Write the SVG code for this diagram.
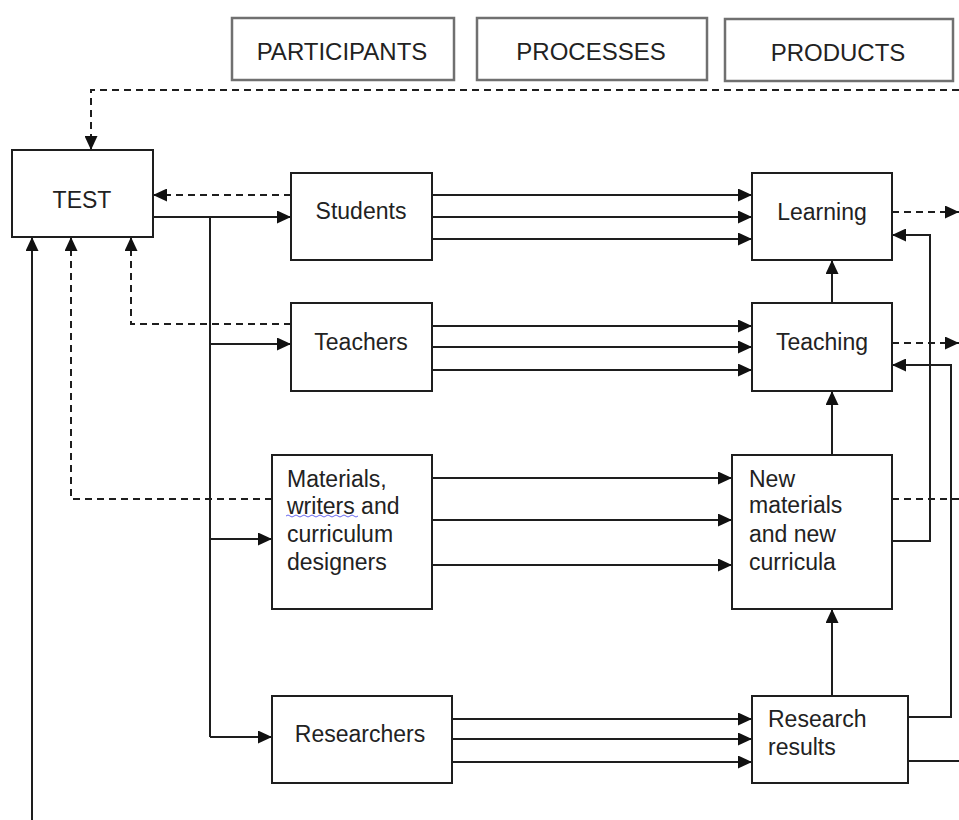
<svg xmlns="http://www.w3.org/2000/svg" width="959" height="820" viewBox="0 0 959 820">
<style>
.box{fill:#fff;stroke:#1e1e1e;stroke-width:2}
.hbox{fill:#fff;stroke:#707070;stroke-width:2.5}
.t{font-family:"Liberation Sans",Arial,sans-serif;font-size:23px;fill:#222}
.h{font-family:"Liberation Sans",Arial,sans-serif;font-size:24px;fill:#222;text-anchor:middle}
.c{text-anchor:middle}
.ln{fill:none;stroke:#1e1e1e;stroke-width:2}
.ar{marker-end:url(#ah)}
.d{stroke-dasharray:7,5}
</style>
<defs>
<marker id="ah" markerUnits="userSpaceOnUse" markerWidth="14" markerHeight="13" refX="14" refY="6.5" orient="auto">
<path d="M0,0 L14,6.5 L0,13 z" fill="#111"/>
</marker>
</defs>
<g id="header-participants"><rect class="hbox" x="232" y="18" width="222" height="62"/><text class="h" x="342" y="60">PARTICIPANTS</text></g>
<g id="header-processes"><rect class="hbox" x="477" y="18" width="230" height="62"/><text class="h" x="591" y="60">PROCESSES</text></g>
<g id="header-products"><rect class="hbox" x="725" y="19" width="228" height="62"/><text class="h" x="838" y="61">PRODUCTS</text></g>

<g id="connectors">
<polyline class="ln d ar" points="959,90 91,90 91,150"/>
<polyline class="ln ar" points="153,217 291,217"/>
<polyline class="ln" points="210,217 210,737"/>
<polyline class="ln ar" points="210,344 291,344"/>
<polyline class="ln ar" points="210,539 272,539"/>
<polyline class="ln ar" points="210,737 272,737"/>
<polyline class="ln d ar" points="291,195 153,195"/>
<polyline class="ln d ar" points="291,324 131,324 131,237"/>
<polyline class="ln d ar" points="272,499 71,499 71,237"/>
<polyline class="ln ar" points="32,820 32,237"/>
<polyline class="ln ar" points="432,195 752,195"/>
<polyline class="ln ar" points="432,217 752,217"/>
<polyline class="ln ar" points="432,239 752,239"/>
<polyline class="ln ar" points="432,326 752,326"/>
<polyline class="ln ar" points="432,347 752,347"/>
<polyline class="ln ar" points="432,370 752,370"/>
<polyline class="ln ar" points="432,478 732,478"/>
<polyline class="ln ar" points="432,520 732,520"/>
<polyline class="ln ar" points="432,565 732,565"/>
<polyline class="ln ar" points="452,719 752,719"/>
<polyline class="ln ar" points="452,739 752,739"/>
<polyline class="ln ar" points="452,762 752,762"/>
<polyline class="ln ar" points="832,303 832,260"/>
<polyline class="ln ar" points="832,455 832,391"/>
<polyline class="ln ar" points="832,696 832,609"/>
<polyline class="ln d ar" points="892,212 959,212"/>
<polyline class="ln d ar" points="892,343 959,343"/>
<polyline class="ln d" points="892,499 959,499"/>
<polyline class="ln ar" points="892,541 930,541 930,235 892,235"/>
<polyline class="ln ar" points="908,717 951,717 951,365 892,365"/>
<polyline class="ln" points="908,761 959,761"/>
</g>

<g id="test"><rect class="box" x="12" y="150" width="141" height="87"/><text class="t c" x="82" y="208">TEST</text></g>
<g id="students"><rect class="box" x="291" y="173" width="141" height="87"/><text class="t c" x="361" y="219">Students</text></g>
<g id="teachers"><rect class="box" x="291" y="303" width="141" height="88"/><text class="t c" x="361" y="350">Teachers</text></g>
<g id="materials"><rect class="box" x="272" y="455" width="160" height="154"/>
<text class="t" x="287" y="487">Materials,</text>
<text class="t" x="287" y="514">writers and</text>
<text class="t" x="287" y="542">curriculum</text>
<text class="t" x="287" y="570">designers</text>
<path d="M286,516 q2,-2 4,0 t4,0 t4,0 t4,0 t4,0 t4,0 t4,0 t4,0 t4,0 t4,0 t4,0 t4,0 t4,0 t4,0 t4,0 t4,0 t4,0 t4,0" fill="none" stroke="#6a6af0" stroke-width="1"/>
</g>
<g id="researchers"><rect class="box" x="272" y="696" width="180" height="87"/><text class="t c" x="360" y="742">Researchers</text></g>
<g id="learning"><rect class="box" x="752" y="173" width="140" height="87"/><text class="t c" x="822" y="220">Learning</text></g>
<g id="teaching"><rect class="box" x="752" y="303" width="140" height="88"/><text class="t c" x="822" y="350">Teaching</text></g>
<g id="new-materials"><rect class="box" x="732" y="455" width="160" height="154"/>
<text class="t" x="749" y="487">New</text>
<text class="t" x="749" y="513">materials</text>
<text class="t" x="749" y="542">and new</text>
<text class="t" x="749" y="570">curricula</text>
</g>
<g id="research-results"><rect class="box" x="752" y="696" width="156" height="87"/>
<text class="t" x="768" y="727">Research</text>
<text class="t" x="768" y="755">results</text>
</g>
</svg>
